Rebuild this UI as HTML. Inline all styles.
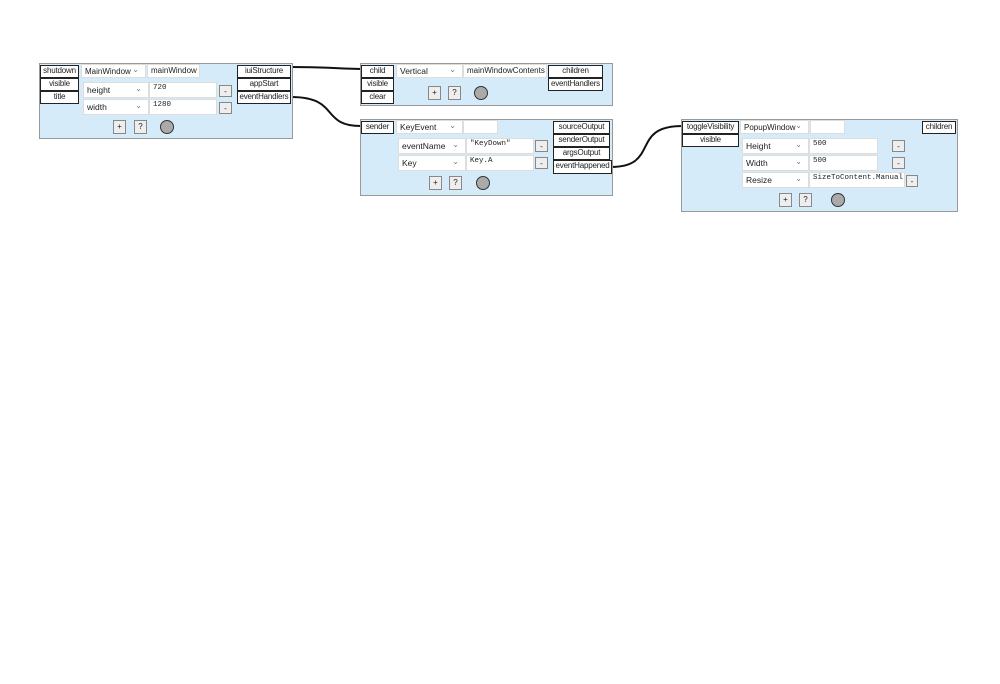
<!DOCTYPE html>
<html><head><meta charset="utf-8"><style>
body{margin:0;width:1000px;height:684px;background:#fff;position:relative;overflow:hidden;font-family:"Liberation Sans",sans-serif;font-size:9px;color:#222}
div{position:absolute;box-sizing:border-box}
.n{background:#d6ebfa;border:1px solid #999}
.p{border:1.5px solid #222;background:#fff;text-align:center;line-height:10px;font-size:8px;white-space:nowrap;overflow:hidden;letter-spacing:-0.2px}
.d{background:#fff;border:1px solid #ddd;padding-left:3px;line-height:13px;font-size:8.5px;white-space:nowrap}
.d::after{content:"⌄";position:absolute;right:6px;top:-2px;color:#777;font-size:8px}
.t{background:#fff;border:1px solid #ddd;padding-left:3px;line-height:12px;font-size:8.5px;white-space:nowrap;overflow:hidden}
.m{font-family:"Liberation Mono",monospace;font-size:7.5px;line-height:10px}
.b{background:#eee;border:1px solid #888;text-align:center;font-size:8px;line-height:11px}
.c{border:1.5px solid #333;background:#aaa;border-radius:50%;width:14px;height:14px}
</style></head><body>
<svg style="position:absolute;left:0;top:0" width="1000" height="684">
<path d="M291,67 C330,67 320,68 361,69" stroke="#111" stroke-width="2" fill="none"/>
<path d="M291,97 C340,97 320,126 361,126" stroke="#111" stroke-width="2" fill="none"/>
<path d="M611,167 C660,167 630,126 682,126" stroke="#111" stroke-width="2" fill="none"/>
</svg>

<div class="n" style="left:39px;top:63px;width:254px;height:76px"></div>
<div class="p" style="left:40px;top:65px;width:39px;height:13px">shutdown</div>
<div class="p" style="left:40px;top:78px;width:39px;height:13px">visible</div>
<div class="p" style="left:40px;top:91px;width:39px;height:13px">title</div>
<div class="d" style="left:81px;top:64px;width:65px;height:14px;font-size:8px">MainWindow</div>
<div class="t" style="left:147px;top:64px;width:53px;height:14px;font-size:8px">mainWindow</div>
<div class="d" style="left:83px;top:82px;width:66px;height:16px;line-height:15px">height</div>
<div class="t m" style="left:149px;top:82px;width:68px;height:16px">720</div>
<div class="b" style="left:219px;top:85px;width:13px;height:12px">-</div>
<div class="d" style="left:83px;top:99px;width:66px;height:16px;line-height:15px">width</div>
<div class="t m" style="left:149px;top:99px;width:68px;height:16px">1280</div>
<div class="b" style="left:219px;top:102px;width:13px;height:12px">-</div>
<div class="b" style="left:113px;top:120px;width:13px;height:14px">+</div>
<div class="b" style="left:134px;top:120px;width:13px;height:14px">?</div>
<div class="c" style="left:160px;top:120px"></div>
<div class="p" style="left:237px;top:65px;width:54px;height:13px">iuiStructure</div>
<div class="p" style="left:237px;top:78px;width:54px;height:13px">appStart</div>
<div class="p" style="left:237px;top:91px;width:54px;height:13px">eventHandlers</div>

<div class="n" style="left:360px;top:63px;width:253px;height:43px"></div>
<div class="p" style="left:361px;top:65px;width:33px;height:13px">child</div>
<div class="p" style="left:361px;top:78px;width:33px;height:13px">visible</div>
<div class="p" style="left:361px;top:91px;width:33px;height:13px">clear</div>
<div class="d" style="left:396px;top:64px;width:67px;height:14px">Vertical</div>
<div class="t" style="left:463px;top:64px;width:84px;height:14px;font-size:8px">mainWindowContents</div>
<div class="p" style="left:548px;top:65px;width:55px;height:13px">children</div>
<div class="p" style="left:548px;top:78px;width:55px;height:13px">eventHandlers</div>
<div class="b" style="left:428px;top:86px;width:13px;height:14px">+</div>
<div class="b" style="left:448px;top:86px;width:13px;height:14px">?</div>
<div class="c" style="left:474px;top:86px"></div>

<div class="n" style="left:360px;top:119px;width:253px;height:77px"></div>
<div class="p" style="left:361px;top:121px;width:33px;height:13px">sender</div>
<div class="d" style="left:396px;top:120px;width:67px;height:14px">KeyEvent</div>
<div class="t" style="left:463px;top:120px;width:35px;height:14px"></div>
<div class="d" style="left:398px;top:138px;width:68px;height:16px;line-height:15px">eventName</div>
<div class="t m" style="left:466px;top:138px;width:68px;height:16px">"KeyDown"</div>
<div class="b" style="left:535px;top:140px;width:13px;height:12px">-</div>
<div class="d" style="left:398px;top:155px;width:68px;height:16px;line-height:15px">Key</div>
<div class="t m" style="left:466px;top:155px;width:68px;height:16px">Key.A</div>
<div class="b" style="left:535px;top:157px;width:13px;height:12px">-</div>
<div class="b" style="left:429px;top:176px;width:13px;height:14px">+</div>
<div class="b" style="left:449px;top:176px;width:13px;height:14px">?</div>
<div class="c" style="left:476px;top:176px"></div>
<div class="p" style="left:553px;top:121px;width:57px;height:13px">sourceOutput</div>
<div class="p" style="left:553px;top:134px;width:57px;height:13px">senderOutput</div>
<div class="p" style="left:553px;top:147px;width:57px;height:13px">argsOutput</div>
<div class="p" style="left:553px;top:160px;width:59px;height:14px">eventHappened</div>

<div class="n" style="left:681px;top:119px;width:277px;height:93px"></div>
<div class="p" style="left:682px;top:121px;width:57px;height:13px">toggleVisibility</div>
<div class="p" style="left:682px;top:134px;width:57px;height:13px">visible</div>
<div class="d" style="left:740px;top:120px;width:69px;height:14px;font-size:8px">PopupWindow</div>
<div class="t" style="left:810px;top:120px;width:35px;height:14px"></div>
<div class="p" style="left:922px;top:121px;width:34px;height:13px">children</div>
<div class="d" style="left:742px;top:138px;width:67px;height:16px;line-height:15px">Height</div>
<div class="t m" style="left:809px;top:138px;width:69px;height:16px">500</div>
<div class="b" style="left:892px;top:140px;width:13px;height:12px">-</div>
<div class="d" style="left:742px;top:155px;width:67px;height:16px;line-height:15px">Width</div>
<div class="t m" style="left:809px;top:155px;width:69px;height:16px">500</div>
<div class="b" style="left:892px;top:157px;width:13px;height:12px">-</div>
<div class="d" style="left:742px;top:172px;width:67px;height:16px;line-height:15px">Resize</div>
<div class="t m" style="left:809px;top:172px;width:96px;height:16px">SizeToContent.Manual</div>
<div class="b" style="left:906px;top:175px;width:12px;height:12px">-</div>
<div class="b" style="left:779px;top:193px;width:13px;height:14px">+</div>
<div class="b" style="left:799px;top:193px;width:13px;height:14px">?</div>
<div class="c" style="left:831px;top:193px"></div>
</body></html>
